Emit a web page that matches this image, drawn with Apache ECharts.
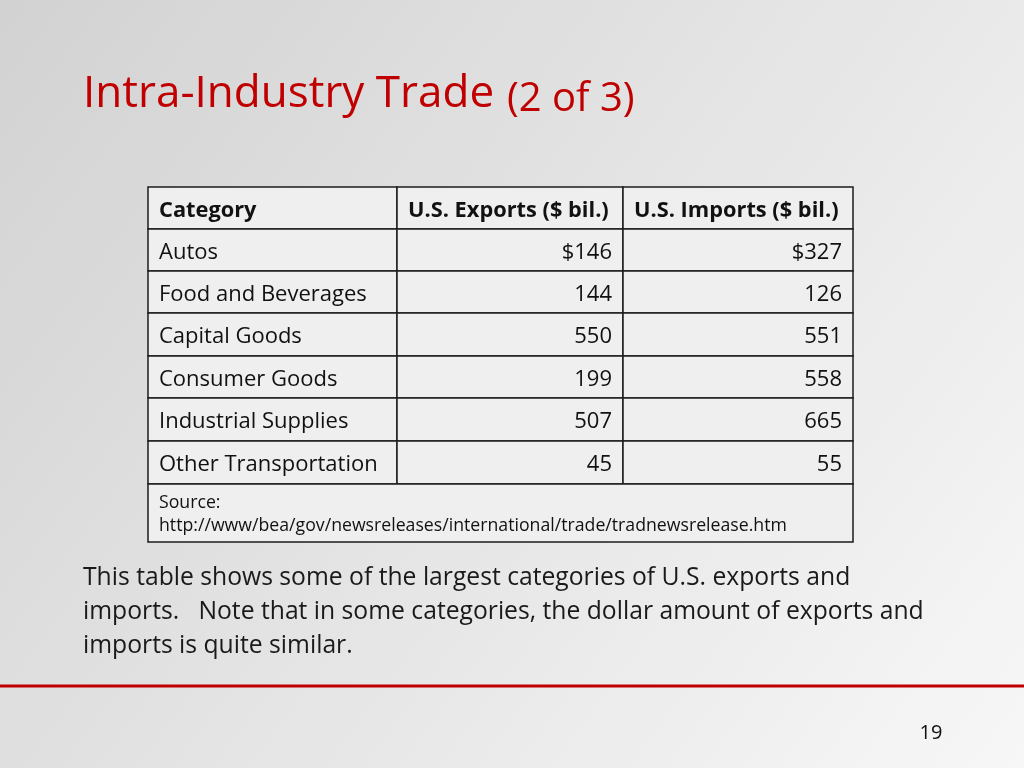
<!DOCTYPE html>
<html><head><meta charset="utf-8">
<script src="https://cdn.jsdelivr.net/npm/echarts@6/dist/echarts.min.js"></script>
<style>html,body{margin:0;padding:0;}#c{width:1024px;height:768px;}</style>
</head><body><div id="c"></div>
<script>
// ---- data ----
const headers = ['Category', 'U.S. Exports ($ bil.)', 'U.S. Imports ($ bil.)'];
const categories = ['Autos', 'Food and Beverages', 'Capital Goods', 'Consumer Goods', 'Industrial Supplies', 'Other Transportation'];
const exportsBil = [146, 144, 550, 199, 507, 45];
const importsBil = [327, 126, 551, 558, 665, 55];
const sourceLines = ['Source:', 'http://www/bea/gov/newsreleases/international/trade/tradnewsrelease.htm'];
const titleMain = 'Intra-Industry Trade';
const titleSub = '(2 of 3)';
const bodyLines = [
  'This table shows some of the largest categories of U.S. exports and',
  'imports.   Note that in some categories, the dollar amount of exports and',
  'imports is quite similar.'
];
const pageNumber = '19';

// ---- layout (axis units = px inside table grid) ----
const FONT = 'Open Sans';
const colEdges = [0, 249, 475, 705];
const rowEdges = [0, 42, 84, 126, 169, 211, 254, 297, 355];

const cells = [];
headers.forEach((h, c) => cells.push({c0: c, c1: c + 1, r: 0, text: h, align: 'left', bold: true}));
categories.forEach((cat, i) => {
  const r = i + 1;
  const fmt = v => (i === 0 ? '$' : '') + v;
  cells.push({c0: 0, c1: 1, r: r, text: cat, align: 'left'});
  cells.push({c0: 1, c1: 2, r: r, text: fmt(exportsBil[i]), align: 'right'});
  cells.push({c0: 2, c1: 3, r: r, text: fmt(importsBil[i]), align: 'right'});
});
cells.push({c0: 0, c1: 3, r: 7, text: sourceLines.join('\n'), align: 'left', small: true});

const data = cells.map(k => [colEdges[k.c0], rowEdges[k.r], colEdges[k.c1], rowEdges[k.r + 1]]);

const chart = echarts.init(document.getElementById('c'));
chart.setOption({
  backgroundColor: {
    type: 'linear', x: 0, y: 0, x2: 1, y2: 1,
    colorStops: [{offset: 0, color: '#d2d2d2'}, {offset: 1, color: '#f7f7f7'}]
  },
  animation: false,
  grid: {left: 148, top: 187, width: 705, height: 355},
  xAxis: {type: 'value', min: 0, max: 705, show: false},
  yAxis: {type: 'value', min: 0, max: 355, inverse: true, show: false},
  series: [{
    type: 'custom',
    data: data,
    renderItem: function (params, api) {
      const k = cells[params.dataIndex];
      const p0 = api.coord([api.value(0), api.value(1)]);
      const p1 = api.coord([api.value(2), api.value(3)]);
      const tx = k.align === 'left' ? p0[0] + 11 : p1[0] - 11;
      return {
        type: 'group',
        children: [
          {type: 'rect', shape: {x: p0[0], y: p0[1], width: p1[0] - p0[0], height: p1[1] - p0[1]},
           style: {fill: '#efefef', stroke: '#1c1c1c', lineWidth: 1.5}},
          {type: 'text', x: tx, y: (p0[1] + p1[1]) / 2 + (k.small ? 1 : 2.5),
           style: {text: k.text, align: k.align, verticalAlign: 'middle',
                   font: (k.bold ? 'bold ' : '') + (k.small ? '17.7px ' : (k.bold ? '21.8px ' : '22px ')) + FONT,
                   lineHeight: k.small ? 23 : 24, fill: '#111'}}
        ]
      };
    }
  }],
  graphic: [
    {type: 'text', x: 83, y: 116, style: {text: titleMain, font: '44px ' + FONT, fill: '#c00000', verticalAlign: 'bottom'}},
    {type: 'text', x: 507, y: 120, style: {text: titleSub, font: '40px ' + FONT, fill: '#c00000', verticalAlign: 'bottom'}},
    {type: 'text', x: 83, y: 561, style: {text: bodyLines.join('\n'), font: '24.7px ' + FONT, lineHeight: 34, fill: '#1a1a1a', verticalAlign: 'top'}},
    {type: 'rect', shape: {x: 0, y: 684.5, width: 1024, height: 3}, style: {fill: '#c00000'}},
    {type: 'text', x: 931, y: 733, style: {text: pageNumber, font: '20px ' + FONT, fill: '#111', align: 'center', verticalAlign: 'middle'}}
  ]
});
</script></body></html>
